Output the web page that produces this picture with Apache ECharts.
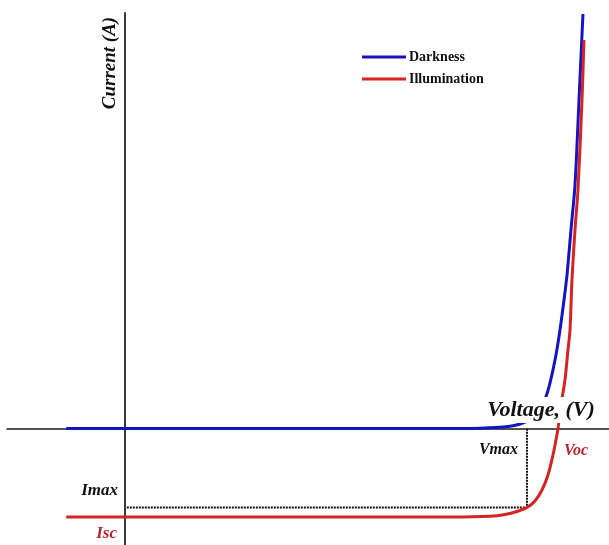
<!DOCTYPE html>
<html>
<head>
<meta charset="utf-8">
<script src="https://cdn.jsdelivr.net/npm/echarts@6/dist/echarts.min.js"></script>
<style>
html,body{margin:0;padding:0;background:#fff;}
#c{width:609px;height:545px;}
</style>
</head>
<body>
<div id="c"></div>
<script>
// Data (voltage in V, current in A, arbitrary scale)
const darkV = [-0.098, 0, 0.25, 0.458, 0.55, 0.5917, 0.625, 0.6417, 0.6583, 0.675, 0.6883, 0.70, 0.7083, 0.7183, 0.725, 0.7317, 0.7367, 0.7433, 0.75, 0.7567, 0.7633];
const darkI = [0, 0, 0, 0, 0.0005, 0.003, 0.014, 0.025, 0.051, 0.102, 0.198, 0.333, 0.514, 0.831, 1.113, 1.452, 1.734, 2.243, 2.751, 3.712, 4.684];
const illumV = [-0.098, 0, 0.25, 0.5417, 0.6083, 0.6333, 0.6533, 0.67, 0.6833, 0.695, 0.705, 0.7133, 0.7183, 0.7217, 0.7267, 0.7333, 0.7383, 0.7417, 0.745, 0.75, 0.755, 0.7617, 0.765];
const illumI = [-1, -1, -1, -1, -0.992, -0.972, -0.938, -0.893, -0.819, -0.695, -0.525, -0.299, -0.13, 0, 0.266, 0.548, 0.887, 1.113, 1.678, 2.243, 2.695, 3.712, 4.39];
const Vmax = 0.67;
const Imax = -0.893;
const seriesNames = ['Darkness', 'Illumination'];
const labels = {current: 'Current (A)', voltage: 'Voltage, (V)', vmax: 'Vmax', voc: 'Voc', imax: 'Imax', isc: 'Isc'};

const zip = (a, b) => a.map((v, i) => [v, b[i]]);
const chart = echarts.init(document.getElementById('c'));
const serif = '"Liberation Serif", "DejaVu Serif", serif';
const red = '#B8232F';
chart.setOption({
  animation: false,
  backgroundColor: '#fff',
  grid: {left: 7, right: 0, top: 13, bottom: 0},
  xAxis: {
    type: 'value', min: -0.1967, max: 0.8067,
    axisLine: {show: true, onZero: true, lineStyle: {color: '#1a1a1a', width: 1.5}},
    axisTick: {show: false}, axisLabel: {show: false}, splitLine: {show: false}
  },
  yAxis: {
    type: 'value', min: -1.316, max: 4.695,
    axisLine: {show: true, onZero: true, lineStyle: {color: '#3a3a3a', width: 2}},
    axisTick: {show: false}, axisLabel: {show: false}, splitLine: {show: false}
  },
  legend: {
    orient: 'vertical', left: 357, top: 45, itemGap: 8,
    itemWidth: 44, itemHeight: 3, icon: 'rect',
    textStyle: {fontFamily: serif, fontWeight: 'bold', fontSize: 14, color: '#111', padding: [0,0,0,-2]},
    data: seriesNames
  },
  series: [
    {
      name: seriesNames[0], type: 'line', data: zip(darkV, darkI), showSymbol: false,
      smooth: 0.3,
      lineStyle: {color: '#1414C4', width: 3}, itemStyle: {color: '#1414C4'}, z: 3
    },
    {
      name: seriesNames[1], type: 'line', data: zip(illumV, illumI), showSymbol: false,
      smooth: 0.3,
      lineStyle: {color: '#D42424', width: 3}, itemStyle: {color: '#D42424'}, z: 4
    },
    {
      name: 'mpp', type: 'line', data: [[0.003, Imax], [Vmax, Imax], [Vmax, 0]], showSymbol: false,
      lineStyle: {color: '#111', width: 2, type: [2, 1]}, z: 2, silent: true
    }
  ],
  graphic: [
    {type: 'text', x: 110, y: 63, rotation: Math.PI / 2, z: 100,
      style: {text: labels.current, font: 'italic bold 19px ' + serif, fill: '#111', align: 'center', verticalAlign: 'middle'}},
    {type: 'text', x: 541, y: 410, z: 100,
      style: {text: labels.voltage, font: 'italic bold 22px ' + serif, fill: '#111', align: 'center', verticalAlign: 'middle',
        backgroundColor: '#fff', padding: [3, 6, 1, 6]}},
    {type: 'text', x: 518, y: 450, z: 100,
      style: {text: labels.vmax, font: 'italic bold 16px ' + serif, fill: '#111', align: 'right', verticalAlign: 'middle'}},
    {type: 'text', x: 564, y: 451, z: 100,
      style: {text: labels.voc, font: 'italic bold 16px ' + serif, fill: red, align: 'left', verticalAlign: 'middle'}},
    {type: 'text', x: 118, y: 491, z: 100,
      style: {text: labels.imax, font: 'italic bold 17px ' + serif, fill: '#111', align: 'right', verticalAlign: 'middle'}},
    {type: 'text', x: 117, y: 534, z: 100,
      style: {text: labels.isc, font: 'italic bold 17px ' + serif, fill: red, align: 'right', verticalAlign: 'middle'}}
  ]
});
</script>
</body>
</html>
